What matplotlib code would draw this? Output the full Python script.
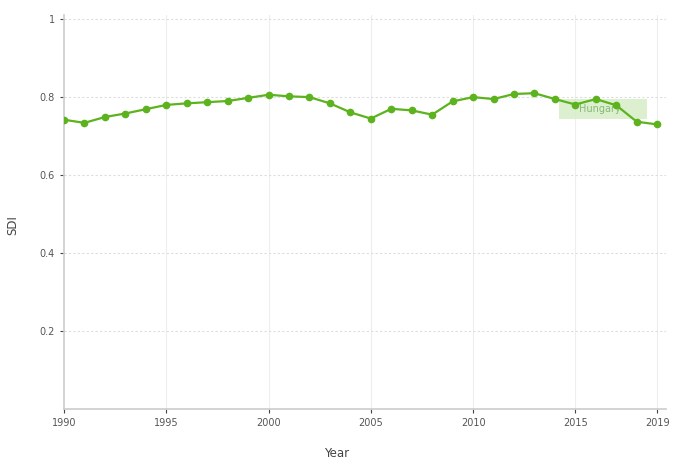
import matplotlib.pyplot as plt
from matplotlib.patches import Rectangle

# SDI values for Hungary, 1990-2019
years = list(range(1990, 2020))
sdi = [0.741, 0.733, 0.748, 0.757, 0.768, 0.779, 0.783, 0.786, 0.789, 0.797,
       0.805, 0.801, 0.799, 0.783, 0.760, 0.744, 0.769, 0.765, 0.754, 0.788,
       0.799, 0.794, 0.807, 0.809, 0.794, 0.780, 0.794, 0.778, 0.736, 0.729]
country = 'Hungary'
x_ticks = [1990, 1995, 2000, 2005, 2010, 2015, 2019]
y_ticks = [0.2, 0.4, 0.6, 0.8, 1]

green = '#5cb31d'
grey = '#555555'

fig = plt.figure(figsize=(6.94, 4.62), dpi=100)
ax = fig.add_axes([0.0922, 0.115, 0.868, 0.853])

ax.plot(years, sdi, color=green, linewidth=1.6, marker='o', markersize=4.5,
        zorder=3)

# label box behind the line
ax.add_patch(Rectangle((2014.2, 0.743), 4.3, 0.052, facecolor='#d6eec8',
                       edgecolor='none', alpha=0.85, zorder=2))
ax.text(2016.2, 0.769, country, fontsize=7, color='#88b878',
        ha='center', va='center', zorder=2.5)

ax.set_xlim(1990, 2019.45)
ax.set_ylim(0, 1.01)
ax.set_xticks(x_ticks)
ax.set_xticklabels([str(t) for t in x_ticks])
ax.set_yticks(y_ticks)
ax.set_yticklabels(['0.2', '0.4', '0.6', '0.8', '1'])

for s in ['top', 'right']:
    ax.spines[s].set_visible(False)
for s in ['left', 'bottom']:
    ax.spines[s].set_color('#cccccc')
    ax.spines[s].set_linewidth(1.2)

ax.tick_params(axis='both', labelsize=7, labelcolor=grey, length=3, width=0.8,
               color='#444444')

for t in x_ticks[1:]:
    ax.axvline(t, color='#eeeeee', linewidth=0.8, zorder=0)
for t in y_ticks:
    ax.axhline(t, color='#dddddd', linewidth=0.8, linestyle=(0, (2, 2)), zorder=0)

ax.set_xlabel('Year', fontsize=8.5, color='#444444')
ax.set_ylabel('SDI', fontsize=8.5, color='#444444')
ax.xaxis.set_label_coords(0.453, -0.097)
ax.yaxis.set_label_coords(-0.074, 0.467)

fig.savefig('out.png', dpi=100)
